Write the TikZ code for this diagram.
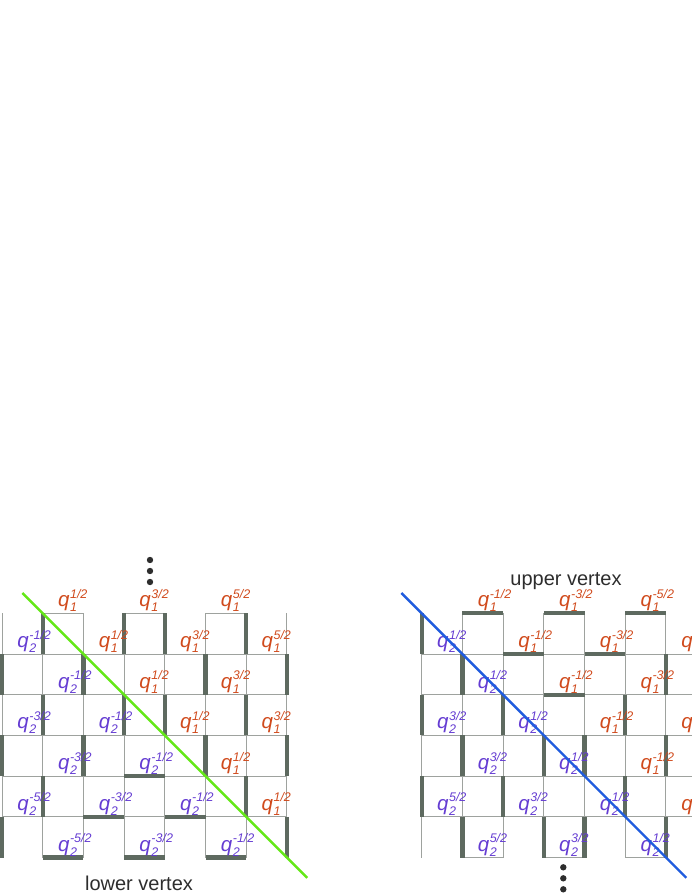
\documentclass[tikz,border=0pt]{standalone}
\usepackage{fontspec}
\setmainfont{Liberation Sans}
\definecolor{qone}{RGB}{208,74,28}
\definecolor{qtwo}{RGB}{100,60,210}
\definecolor{thickc}{RGB}{94,106,96}
\definecolor{thinc}{RGB}{158,162,158}
\definecolor{greenl}{RGB}{100,232,24}
\definecolor{bluel}{RGB}{32,92,222}
\definecolor{txtc}{RGB}{45,45,45}
\newsavebox\supbx
\newsavebox\subbx
\newlength\scrw
\newcommand\qlab[2]{%
  \sbox\supbx{\fontsize{12.5}{12.5}\selectfont\itshape #2}%
  \sbox\subbx{\fontsize{12.5}{12.5}\selectfont\itshape #1}%
  \setlength\scrw{\wd\supbx}%
  \ifdim\wd\subbx>\scrw\setlength\scrw{\wd\subbx}\fi
  \textit{q}\kern0.6pt\rlap{\raisebox{8.5pt}{\usebox\supbx}}\rlap{\raisebox{-5pt}{\usebox\subbx}}\hspace{\scrw}}
\def\cellsz{40.7}
\newcommand\latticelines{%
  \foreach \i in {0,...,7} \draw[gridline] (\cellsz*\i,0) -- (\cellsz*\i,6*\cellsz);
  \foreach \j in {1,...,5} \draw[gridline] (0,\cellsz*\j) -- (7*\cellsz,\cellsz*\j);
  \foreach \c in {1,3,5} \draw[gridline] (\cellsz*\c,0) -- (\cellsz*\c+\cellsz,0);
  \foreach \i/\r in {1/0,3/0,4/0,6/0,1/2,3/2,4/2,6/2,0/1,2/1,5/1,7/1,0/3,2/3,5/3,7/3,1/4,6/4,0/5,7/5}
    \draw[thickedge] (\cellsz*\i,\cellsz*\r) -- (\cellsz*\i,\cellsz*\r+\cellsz);
  \foreach \c/\j in {3/4,2/5,4/5,1/6,3/6,5/6}
    \draw[thickedge] (\cellsz*\c,\cellsz*\j) -- (\cellsz*\c+\cellsz,\cellsz*\j);
}
\begin{document}
\begin{tikzpicture}[x=1pt,y=-1pt,
  lab/.style={anchor=base,inner sep=0pt,font=\fontsize{20.5}{24}\selectfont},
  gridline/.style={draw=thinc,line width=1pt},
  thickedge/.style={draw=thickc,line width=4.3pt,line cap=butt},
  diagline/.style={line width=2.4pt},
  dotmark/.style={circle,fill=txtc,inner sep=0pt,minimum size=6.4pt},
  caption/.style={anchor=base,inner sep=0pt,text=txtc,font=\fontsize{20}{24}\selectfont}]
\useasboundingbox (0,0) rectangle (692,896);
\clip (0,0) rectangle (692,896);
% left lattice
\begin{scope}[shift={(2,613.3)}]
  \latticelines
  \foreach \r in {-1,...,5}{\foreach \c in {0,...,6}{
    \pgfmathtruncatemacro\pp{mod(\r+\c+2,2)}
    \ifnum\pp=0
      \pgfmathtruncatemacro\dd{(\c-\r)/2}
      \pgfmathtruncatemacro\nn{abs(2*\dd-1)}
      \ifnum\dd>0
        \node[lab,text=qone] (L\r-\c) at (\cellsz*\c+\cellsz/2+1,\cellsz*\r+\cellsz-6.5) {\qlab{1}{\nn/2}};
      \else
        \node[lab,text=qtwo] (L\r-\c) at (\cellsz*\c+\cellsz/2+1,\cellsz*\r+\cellsz-6.5) {\qlab{2}{-\nn/2}};
      \fi
    \fi
  }}
\end{scope}
% right lattice (lines are the left ones turned by 180 degrees)
\begin{scope}[shift={(706.6,857.5)},scale=-1]
  \latticelines
\end{scope}
\begin{scope}[shift={(421.7,613.3)}]
  \foreach \r in {-1,...,5}{\foreach \c in {0,...,6}{
    \pgfmathtruncatemacro\pp{mod(\r+\c+2,2)}
    \ifnum\pp=0
      \pgfmathtruncatemacro\dd{(\c-\r)/2}
      \pgfmathtruncatemacro\nn{abs(2*\dd-1)}
      \ifnum\dd>0
        \node[lab,text=qone] (R\r-\c) at (\cellsz*\c+\cellsz/2+1,\cellsz*\r+\cellsz-6.5) {\qlab{1}{-\nn/2}};
      \else
        \node[lab,text=qtwo] (R\r-\c) at (\cellsz*\c+\cellsz/2+1,\cellsz*\r+\cellsz-6.5) {\qlab{2}{\nn/2}};
      \fi
    \fi
  }}
\end{scope}
% diagonals
\coordinate (g1) at (22.35,592.95);
\coordinate (g2) at (307.2,877.8);
\draw[diagline,greenl] (g1) -- (g2);
\coordinate (b1) at (401.35,592.95);
\coordinate (b2) at (686.3,877.8);
\draw[diagline,bluel] (b1) -- (b2);
% dots
\node[dotmark] (dl1) at (150,560) {};
\node[dotmark] (dl2) at (150,571) {};
\node[dotmark] (dl3) at (150,582) {};
\node[dotmark] (dr1) at (563.3,867.3) {};
\node[dotmark] (dr2) at (563.3,878.3) {};
\node[dotmark] (dr3) at (563.3,889.3) {};
% captions
\node[caption] (lower) at (139,890) {lower vertex};
\node[caption] (upper) at (566,585) {upper vertex};
\end{tikzpicture}
\end{document}
